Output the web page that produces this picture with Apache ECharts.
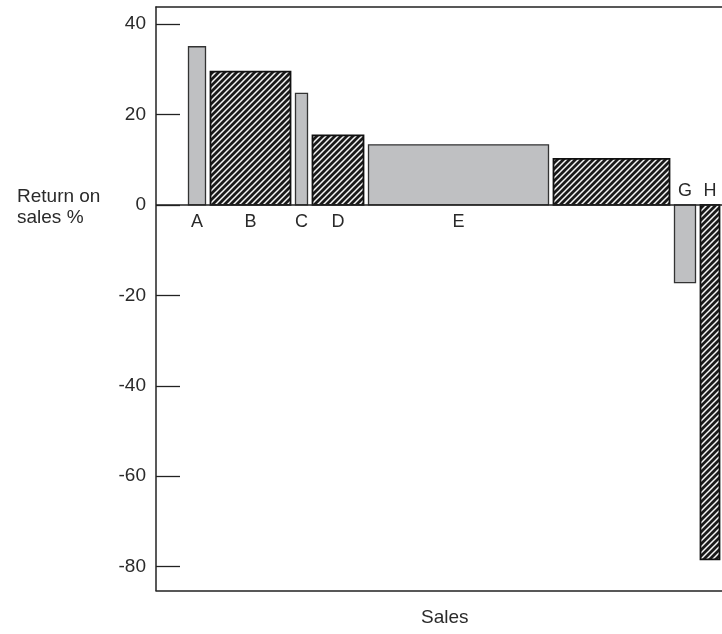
<!DOCTYPE html>
<html>
<head>
<meta charset="utf-8">
<script src="https://cdn.jsdelivr.net/npm/echarts@6/dist/echarts.min.js"></script>
<style>
  html, body { margin: 0; padding: 0; background: #ffffff; }
  #chart { width: 722px; height: 634px; }
</style>
</head>
<body>
<div id="chart"></div>
<script>
// ---- data ----
const categories = ['A', 'B', 'C', 'D', 'E', 'F', 'G', 'H'];
const barLabels = ['A', 'B', 'C', 'D', 'E', '', 'G', 'H'];
const sales = [22, 85, 17, 56, 185, 121, 26, 24];          // relative sales (bar widths)
const returnOnSales = [35, 29.5, 24.7, 15.4, 13.3, 10.2, -17.2, -78.4];
const hatched = [false, true, false, true, false, true, false, true];
const yTicks = [-80, -60, -40, -20, 0, 20, 40];

// ---- build series data (cumulative sales positions) ----
const seriesData = [];
let cum = 0;
for (let i = 0; i < categories.length; i++) {
  seriesData.push([cum, cum + sales[i], returnOnSales[i], i]);
  cum += sales[i];
}
const totalSales = cum;

// ---- hatch pattern ----
function makeHatch() {
  const s = 6;
  const c = document.createElement('canvas');
  c.width = s; c.height = s;
  const g = c.getContext('2d');
  g.fillStyle = '#1a1a1a';
  g.fillRect(0, 0, s, s);
  g.strokeStyle = '#f6f6f6';
  g.lineWidth = 1.5;
  g.beginPath();
  g.moveTo(0, s); g.lineTo(s, 0);
  g.moveTo(-1, 1); g.lineTo(1, -1);
  g.moveTo(s - 1, s + 1); g.lineTo(s + 1, s - 1);
  g.stroke();
  return c;
}
const hatchCanvas = makeHatch();

const FONT = '"Liberation Sans", Arial, Helvetica, sans-serif';
const TEXT_COLOR = '#2a2a2a';

const chart = echarts.init(document.getElementById('chart'), null, { renderer: 'canvas' });

const option = {
  animation: false,
  backgroundColor: '#ffffff',
  grid: { left: 156, right: 0, top: 7, bottom: 43.5 },
  xAxis: [
    {
      type: 'value',
      position: 'bottom',
      min: -30,
      max: totalSales,
      axisLine: { show: true, onZero: false, lineStyle: { color: '#222', width: 1.5 } },
      axisTick: { show: false },
      axisLabel: { show: false },
      splitLine: { show: false }
    },
    {
      type: 'value',
      position: 'top',
      min: -30,
      max: totalSales,
      axisLine: { show: true, onZero: false, lineStyle: { color: '#222', width: 1.5 } },
      axisTick: { show: false },
      axisLabel: { show: false },
      splitLine: { show: false }
    }
  ],
  yAxis: {
    type: 'value',
    min: -85.3,
    max: 43.8,
    axisLine: { show: true, onZero: false, lineStyle: { color: '#222', width: 1.5 } },
    axisTick: {
      show: true, inside: true, length: 24,
      customValues: yTicks,
      lineStyle: { color: '#222', width: 1.3 }
    },
    axisLabel: {
      show: true, margin: 10,
      customValues: yTicks,
      fontFamily: FONT, fontSize: 19, color: TEXT_COLOR
    },
    splitLine: { show: false }
  },
  graphic: [
    {
      type: 'text', left: 17, top: 186,
      style: { text: 'Return on\nsales %', font: '19px ' + FONT, fill: TEXT_COLOR, lineHeight: 21 }
    },
    {
      type: 'text', left: 421, top: 608,
      style: { text: 'Sales', font: '19px ' + FONT, fill: TEXT_COLOR }
    }
  ],
  series: [{
    type: 'custom',
    xAxisIndex: 0,
    data: seriesData,
    encode: { x: [0, 1], y: 2 },
    clip: false,
    renderItem: function (params, api) {
      const i = api.value(3);
      const start = api.value(0), end = api.value(1), v = api.value(2);
      const p0 = api.coord([start, 0]);
      const p1 = api.coord([end, v]);
      const gap = 2.5;
      const x = p0[0] + gap;
      const w = p1[0] - p0[0] - 2 * gap;
      const y = Math.min(p0[1], p1[1]);
      const h = Math.abs(p1[1] - p0[1]);
      const isHatch = hatched[i];
      const cx = x + w / 2;
      const labelY = v >= 0 ? p0[1] + 17 : p0[1] - 14;
      return {
        type: 'group',
        children: [
          {
            type: 'rect',
            shape: { x: x, y: y, width: w, height: h },
            style: isHatch
              ? { fill: { image: hatchCanvas, repeat: 'repeat' }, stroke: '#111', lineWidth: 1.8 }
              : { fill: '#bfc0c2', stroke: '#333', lineWidth: 1.3 }
          },
          {
            type: 'text',
            style: {
              x: cx, y: labelY, text: barLabels[i],
              align: 'center', verticalAlign: 'middle',
              font: '18px ' + FONT, fill: TEXT_COLOR
            }
          }
        ]
      };
    },
    markLine: {
      silent: true,
      symbol: 'none',
      label: { show: false },
      lineStyle: { color: '#222', width: 1.5, type: 'solid' },
      data: [{ yAxis: 0 }]
    }
  }]
};

chart.setOption(option);
</script>
</body>
</html>
